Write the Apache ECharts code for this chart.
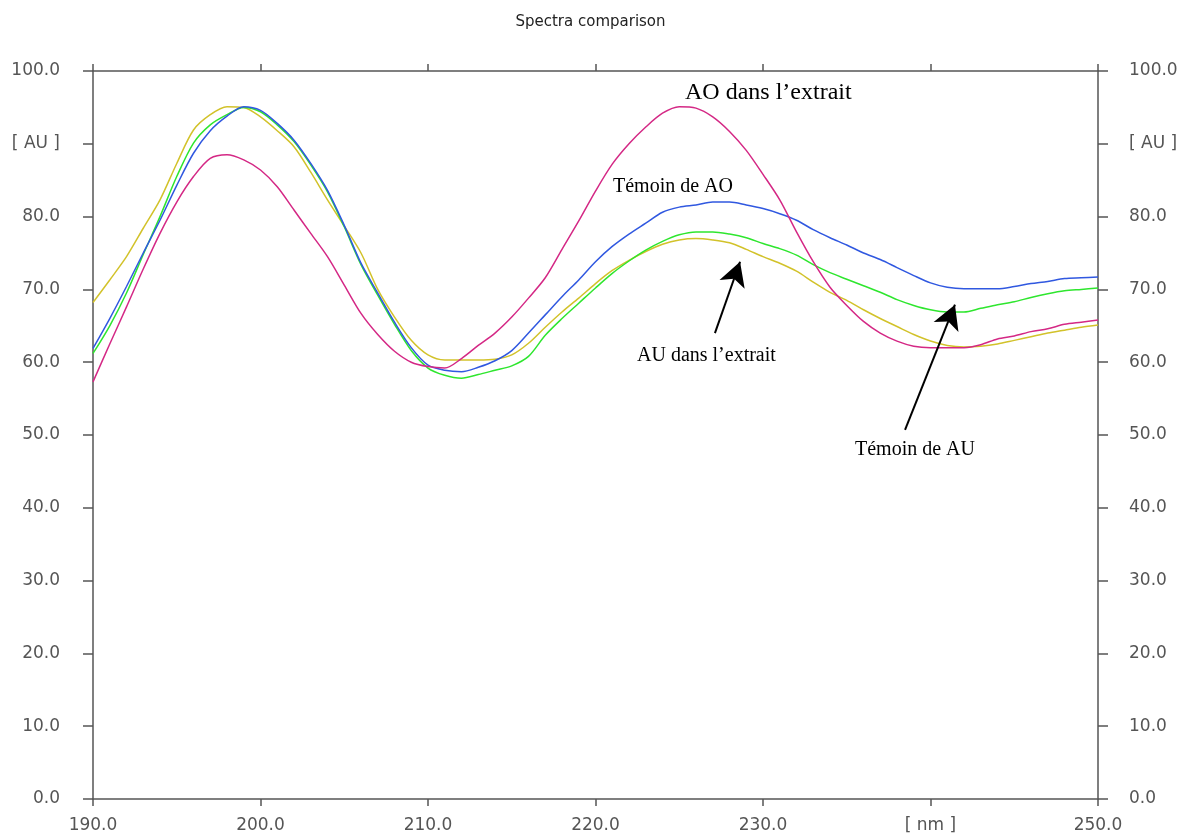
<!DOCTYPE html>
<html>
<head>
<meta charset="utf-8">
<script src="https://cdn.jsdelivr.net/npm/echarts@6/dist/echarts.min.js"></script>
<style>html,body{margin:0;padding:0;background:#fff}#c{width:1181px;height:836px}</style>
</head>
<body>
<div id="c"></div>
<script>
const wavelengths = [];
for (let w = 190; w <= 250; w++) wavelengths.push(w);

const temoinAO = [61.9,66.0,70.4,75.0,79.5,84.3,88.7,91.8,93.8,95.1,94.6,92.8,90.5,87.3,83.6,78.8,73.6,69.5,65.5,62.0,59.6,58.9,58.7,59.3,60.2,61.6,64.0,66.5,69.0,71.3,73.8,75.9,77.6,79.1,80.6,81.3,81.6,82.0,82.0,81.6,81.1,80.4,79.5,78.2,77.1,76.1,75.0,74.1,73.0,71.9,70.9,70.3,70.1,70.1,70.1,70.4,70.8,71.1,71.5,71.6,71.7];
const temoinAU = [61.2,65.0,69.5,74.8,80.0,85.5,90.1,92.6,94.0,95.0,94.4,92.6,90.3,87.1,83.4,78.6,73.4,69.2,65.2,61.6,59.2,58.2,57.8,58.3,58.9,59.5,60.8,63.7,66.0,68.1,70.2,72.2,73.9,75.4,76.6,77.5,77.9,77.9,77.6,77.1,76.3,75.6,74.7,73.4,72.3,71.4,70.5,69.6,68.6,67.8,67.2,66.9,66.9,67.4,67.9,68.3,68.9,69.4,69.8,70.0,70.2];
const auExtrait = [68.2,71.3,74.5,78.4,82.3,87.3,91.9,94.0,95.1,95.0,93.7,91.8,89.6,86.1,82.3,78.7,75.0,70.0,66.2,63.0,61.0,60.3,60.3,60.3,60.4,61.0,62.6,64.8,66.9,68.8,70.8,72.6,74.0,75.2,76.2,76.8,77.0,76.8,76.4,75.5,74.5,73.6,72.5,71.0,69.6,68.5,67.2,66.0,64.9,63.8,62.9,62.3,62.1,62.2,62.5,63.0,63.5,64.0,64.4,64.8,65.1];
const aoExtrait = [57.3,62.5,67.6,72.8,77.7,82.0,85.5,88.0,88.5,87.8,86.4,84.1,80.9,77.7,74.5,70.6,66.7,63.8,61.5,60.0,59.4,59.2,60.5,62.3,64.0,66.2,68.8,71.6,75.5,79.4,83.5,87.2,90.0,92.3,94.2,95.1,94.9,93.7,91.7,89.1,85.8,82.3,77.9,73.8,70.3,67.8,65.6,64.0,62.9,62.2,62.0,62.0,62.0,62.4,63.2,63.6,64.2,64.6,65.2,65.5,65.8];

const yTickLabels = {100:'100.0',90:'[ AU ]',80:'80.0',70:'70.0',60:'60.0',50:'50.0',40:'40.0',30:'30.0',20:'20.0',10:'10.0',0:'0.0'};
const xTickLabels = {190:'190.0',200:'200.0',210:'210.0',220:'220.0',230:'230.0',240:'[ nm ]',250:'250.0'};

// annotation arrows: [tail, head] in data coords
const arrows = [
  [[227.13, 64.0], [228.63, 73.8]],
  [[238.48, 50.7], [241.46, 67.9]]
];

function pairs(ys){ return wavelengths.map((w,i)=>[w, ys[i]]); }

const axisLineStyle = {color:'#555', width:1.5};
const labelStyle = {color:'#555', fontFamily:'DejaVu Sans', fontSize:17};

const chart = echarts.init(document.getElementById('c'));
chart.setOption({
  animation:false,
  backgroundColor:'#fff',
  title:{text:'Spectra comparison', left:'center', top:10,
    textStyle:{fontFamily:'DejaVu Sans', fontSize:15, fontWeight:'normal', color:'#222'}},
  grid:{left:93, right:83, top:71, bottom:37},
  xAxis:[
    {type:'value', position:'bottom', min:190, max:250, interval:10,
     axisLine:{show:true, onZero:false, lineStyle:axisLineStyle},
     axisTick:{show:true, length:7, lineStyle:axisLineStyle},
     splitLine:{show:false},
     axisLabel:Object.assign({margin:18, formatter:v=>xTickLabels[v]||''}, labelStyle)},
    {type:'value', position:'top', min:190, max:250, interval:10,
     axisLine:{show:true, onZero:false, lineStyle:axisLineStyle},
     axisTick:{show:true, length:7, lineStyle:axisLineStyle},
     splitLine:{show:false}, axisLabel:{show:false}}
  ],
  yAxis:[
    {type:'value', position:'left', min:0, max:100, interval:10,
     axisLine:{show:true, onZero:false, lineStyle:axisLineStyle},
     axisTick:{show:true, length:10, lineStyle:axisLineStyle},
     splitLine:{show:false},
     axisLabel:Object.assign({margin:33, formatter:v=>yTickLabels[v]||''}, labelStyle)},
    {type:'value', position:'right', min:0, max:100, interval:10,
     axisLine:{show:true, onZero:false, lineStyle:axisLineStyle},
     axisTick:{show:true, length:10, lineStyle:axisLineStyle},
     splitLine:{show:false},
     axisLabel:Object.assign({margin:31, formatter:v=>yTickLabels[v]||''}, labelStyle)}
  ],
  series:[
    {name:'AU dans l’extrait', type:'line', data:pairs(auExtrait), showSymbol:false, smooth:0.3,
     lineStyle:{color:'#d2c22a', width:1.5}},
    {name:'Témoin de AU', type:'line', data:pairs(temoinAU), showSymbol:false, smooth:0.3,
     lineStyle:{color:'#2ee62e', width:1.5}},
    {name:'Témoin de AO', type:'line', data:pairs(temoinAO), showSymbol:false, smooth:0.3,
     lineStyle:{color:'#3058e0', width:1.5}},
    {name:'AO dans l’extrait', type:'line', data:pairs(aoExtrait), showSymbol:false, smooth:0.3,
     lineStyle:{color:'#d42885', width:1.5},
     markLine:{silent:true, symbol:['none','arrow'], symbolSize:[20,24],
       label:{show:false},
       lineStyle:{color:'#000', width:2, type:'solid'},
       data:arrows.map(a=>[{coord:a[0]},{coord:a[1]}])}}
  ],
  graphic:[
    {type:'text', left:685, top:81, style:{text:'AO dans l’extrait', font:'24px "Liberation Serif"', fill:'#000'}},
    {type:'text', left:613, top:177, style:{text:'Témoin de AO', font:'20px "Liberation Serif"', fill:'#000'}},
    {type:'text', left:637, top:346, style:{text:'AU dans l’extrait', font:'20px "Liberation Serif"', fill:'#000'}},
    {type:'text', left:855, top:440, style:{text:'Témoin de AU', font:'20px "Liberation Serif"', fill:'#000'}}
  ]
});
</script>
</body>
</html>
